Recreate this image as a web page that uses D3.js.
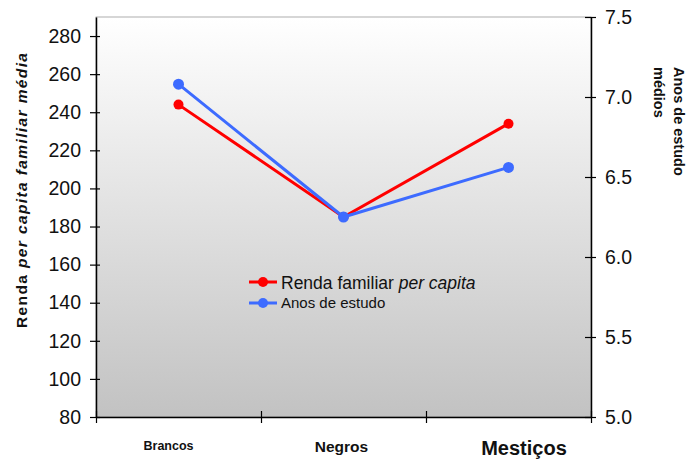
<!DOCTYPE html>
<html>
<head>
<meta charset="utf-8">
<script src="https://cdn.jsdelivr.net/npm/d3@7"></script>
<style>
  html, body { margin: 0; padding: 0; background: #fff; }
  svg { display: block; font-family: Arial, "Liberation Sans", sans-serif; }
</style>
</head>
<body>
<svg id="chart" width="689" height="459"></svg>
<script>
// Grupos de cor/raça
const categories = ["Brancos", "Negros", "Mestiços"];
// Renda familiar per capita (eixo esquerdo)
const renda = [244, 185, 234];
// Anos de estudo médios (eixo direito)
const anos = [7.08, 6.25, 6.56];
const leftTicks = [80, 100, 120, 140, 160, 180, 200, 220, 240, 260, 280];
const rightTicks = [5.0, 5.5, 6.0, 6.5, 7.0, 7.5];

const svg = d3.select("#chart");
const m = { left: 96, right: 591, top: 17, bottom: 417 };

const x = d3.scaleBand().domain(categories).range([m.left, m.right]);
const yL = d3.scaleLinear().domain([80, 290]).range([m.bottom, m.top]);
const yR = d3.scaleLinear().domain([5.0, 7.5]).range([m.bottom, m.top]);

// Plot background gradient
const defs = svg.append("defs");
const grad = defs.append("linearGradient").attr("id", "bg")
  .attr("x1", 0).attr("y1", 0).attr("x2", 0).attr("y2", 1);
grad.append("stop").attr("offset", "0%").attr("stop-color", "#ffffff");
grad.append("stop").attr("offset", "100%").attr("stop-color", "#c2c2c2");

svg.append("rect")
  .attr("x", m.left).attr("y", m.top)
  .attr("width", m.right - m.left).attr("height", m.bottom - m.top)
  .attr("fill", "url(#bg)").attr("stroke", "#9a9a9a").attr("stroke-width", 0.8);

// Axes
function styleAxis(g, fontSize) {
  g.select(".domain").attr("stroke", "#000").attr("stroke-width", 1.5);
  g.selectAll(".tick line").attr("stroke", "#000").attr("stroke-width", 1.2);
  g.selectAll(".tick text").attr("fill", "#111").attr("font-size", fontSize);
}

const gL = svg.append("g").attr("transform", `translate(${m.left},0)`)
  .call(d3.axisLeft(yL).tickValues(leftTicks).tickSizeInner(6).tickSizeOuter(0).tickPadding(9));
gL.selectAll(".tick line").attr("x2", 4).attr("x1", -6);
styleAxis(gL, 19.5);

const gR = svg.append("g").attr("transform", `translate(${m.right},0)`)
  .call(d3.axisRight(yR).tickValues(rightTicks).tickFormat(d3.format(".1f")).tickSizeInner(5).tickSizeOuter(0).tickPadding(9));
gR.selectAll(".tick line").attr("x1", -6).attr("x2", 5);
styleAxis(gR, 19.5);

// Category axis: boundary ticks between groups
const xb = d3.scaleLinear().domain([0, 3]).range([m.left, m.right]);
const gB = svg.append("g").attr("transform", `translate(0,${m.bottom})`)
  .call(d3.axisBottom(xb).tickValues([0, 1, 2, 3]).tickFormat("").tickSizeInner(6).tickSizeOuter(0));
gB.selectAll(".tick line").attr("y1", -6).attr("y2", 6);
styleAxis(gB, 12);

// Category labels (each with its own size, as set in the source)
const catSizes = [12.5, 15.5, 20];
const catY = [450, 452, 455];
const catShift = [-10, -2, 15.5];
svg.selectAll(".cat").data(categories).join("text")
  .attr("class", "cat")
  .attr("x", (d, i) => x(d) + x.bandwidth() / 2 + catShift[i])
  .attr("y", (d, i) => catY[i])
  .attr("text-anchor", "middle")
  .attr("font-weight", "bold")
  .attr("font-size", (d, i) => catSizes[i])
  .attr("fill", "#111")
  .text(d => d);

// Axis titles
const tl = svg.append("text")
  .attr("transform", `translate(27,190.5) rotate(-90)`)
  .attr("text-anchor", "middle").attr("font-weight", "bold").attr("font-size", 15.5).attr("fill", "#111")
  .attr("textLength", 275).attr("lengthAdjust", "spacing");
tl.append("tspan").text("Renda ");
tl.append("tspan").attr("font-style", "italic").text("per capita familiar média");

const tr = svg.append("text")
  .attr("transform", `translate(674,67) rotate(90)`)
  .attr("text-anchor", "start").attr("font-weight", "bold").attr("font-size", 14.5).attr("fill", "#111");
tr.append("tspan").attr("x", 0).attr("dy", 0).text("Anos de estudo");
tr.append("tspan").attr("x", 0).attr("dy", 20).text("médios");

// Series
const cx = d => x(d) + x.bandwidth() / 2;
const red = "#ff0000", blue = "#3d6bff";

const lineL = d3.line().x((d, i) => cx(categories[i])).y(d => yL(d));
const lineR = d3.line().x((d, i) => cx(categories[i])).y(d => yR(d));

svg.append("path").datum(renda).attr("d", lineL)
  .attr("fill", "none").attr("stroke", red).attr("stroke-width", 3);
svg.selectAll(".pr").data(renda).join("circle").attr("class", "pr")
  .attr("cx", (d, i) => cx(categories[i])).attr("cy", d => yL(d)).attr("r", 5).attr("fill", red);

svg.append("path").datum(anos).attr("d", lineR)
  .attr("fill", "none").attr("stroke", blue).attr("stroke-width", 3);
svg.selectAll(".pb").data(anos).join("circle").attr("class", "pb")
  .attr("cx", (d, i) => cx(categories[i])).attr("cy", d => yR(d)).attr("r", 5.5).attr("fill", blue);

// Legend
const legend = svg.append("g");
const items = [
  { color: red, y: 282, ty: 289, size: 17.5, parts: [["Renda familiar ", "normal"], ["per capita", "italic"]] },
  { color: blue, y: 303, ty: 308, size: 15, parts: [["Anos de estudo", "normal"]] }
];
items.forEach(it => {
  legend.append("line").attr("x1", 249).attr("x2", 277).attr("y1", it.y).attr("y2", it.y)
    .attr("stroke", it.color).attr("stroke-width", 3);
  legend.append("circle").attr("cx", 263).attr("cy", it.y).attr("r", 5).attr("fill", it.color);
  const t = legend.append("text").attr("x", 281).attr("y", it.ty)
    .attr("font-size", it.size).attr("fill", "#111");
  it.parts.forEach(p => t.append("tspan").attr("font-style", p[1]).text(p[0]));
});
</script>
</body>
</html>
